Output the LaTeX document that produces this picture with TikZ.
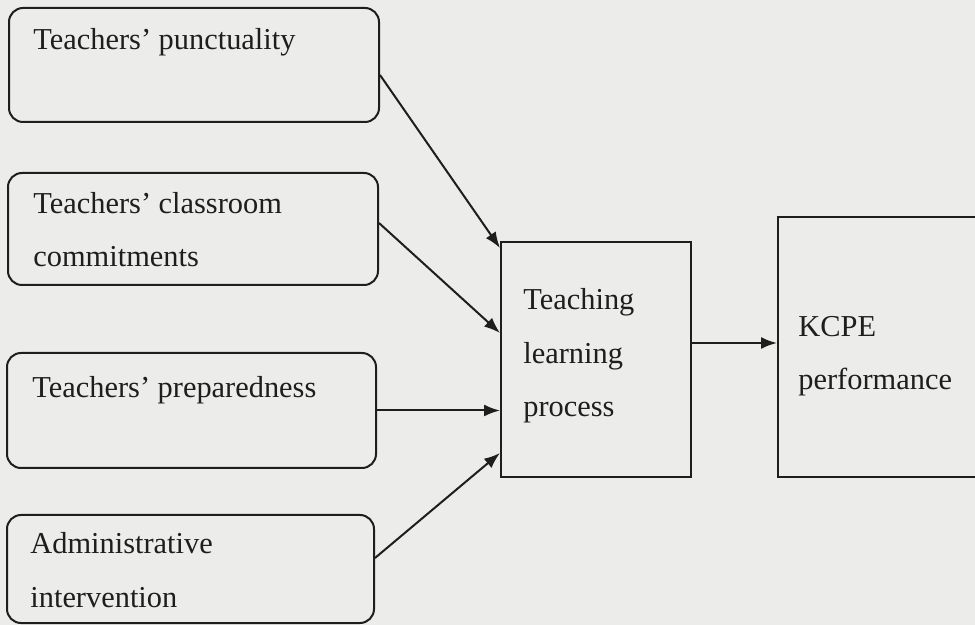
\documentclass[tikz,border=0pt]{standalone}
\usepackage{fontspec}
\setmainfont{Liberation Serif}
\usetikzlibrary{arrows.meta}
\definecolor{bg}{RGB}{236,236,234}
\definecolor{ink}{RGB}{30,30,30}
\begin{document}
\begin{tikzpicture}[x=0.5pt,y=-0.5pt,
  rbox/.style={draw=ink,line width=1pt,rounded corners=7pt,inner sep=0pt},
  sbox/.style={draw=ink,line width=1pt,inner sep=0pt},
  lbl/.style={anchor=base west,inner sep=0pt,align=left,text=ink,
    font=\fontsize{15.2}{26.75}\selectfont},
  arr/.style={draw=ink,line width=1pt,-{Latex[length=8pt,width=6pt]}}]
\useasboundingbox (0,0) rectangle (975,625);
\fill[bg] (0,0) rectangle (975,625);
\clip (0,0) rectangle (975,625);
% boxes
\node[rbox,minimum width=185pt,minimum height=57pt] (b1) at (194,65) {};
\node[rbox,minimum width=185pt,minimum height=56pt] (b2) at (193,229) {};
\node[rbox,minimum width=184.5pt,minimum height=57.5pt] (b3) at (191.5,410.5) {};
\node[rbox,minimum width=183.5pt,minimum height=54pt] (b4) at (190.5,569) {};
\node[sbox,minimum width=95pt,minimum height=117.5pt] (tlp) at (596,359.5) {};
\node[sbox,minimum width=111pt,minimum height=130pt] (kcpe) at (889,347) {};
% texts (base anchor = baseline of last line)
\node[lbl] (t1) at (33,50) {Teachers’ punctuality};
\node[lbl] (t2) at (33,267) {Teachers’ classroom\\commitments};
\node[lbl] (t3) at (32,398) {Teachers’ preparedness};
\node[lbl] (t4) at (30,607) {Administrative\\intervention};
\node[lbl] (t5) at (523,417) {Teaching\\learning\\process};
\node[lbl] (t6) at (798,390) {KCPE\\performance};
% arrows
\draw[arr] ([yshift=-5pt]b1.east) -- ([yshift=55.75pt]tlp.west);
\draw[arr] ([yshift=3pt]b2.east) -- ([yshift=13.25pt]tlp.west);
\draw[arr] (b3.east) -- (b3.east -| tlp.west);
\draw[arr] ([yshift=5.5pt]b4.east) -- ([yshift=-46.75pt]tlp.west);
\draw[arr] ([yshift=8.25pt]tlp.east) -- ([yshift=8.25pt]tlp.east -| kcpe.west);
\end{tikzpicture}
\end{document}
